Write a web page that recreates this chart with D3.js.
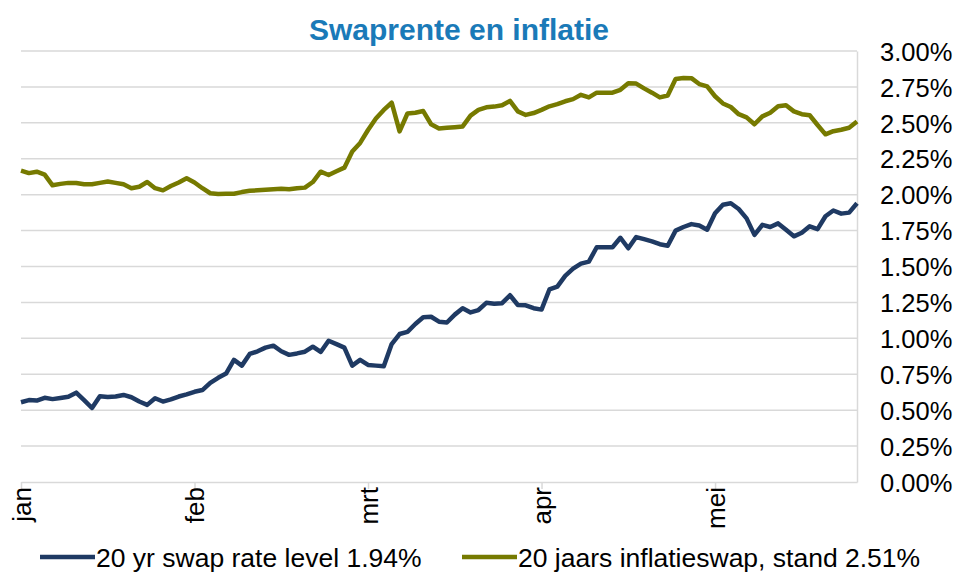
<!DOCTYPE html>
<html>
<head>
<meta charset="utf-8">
<script src="https://cdn.jsdelivr.net/npm/d3@7"></script>
<style>
	body { margin: 0; background: #fff; }
	svg { display: block; font-family: "Liberation Sans", Arial, sans-serif; }
</style>
</head>
<body>
<svg id="chart"></svg>
<script>
'use strict'

// handelsdagen jan t/m mei, labels op elke 22e dag
var maanden = ["jan", "feb", "mrt", "apr", "mei"];
var maandDag = [0, 22, 44, 66, 88];

// 20 yr swap rate (%)
var swapRente = [
	0.555, 0.57, 0.567, 0.586, 0.577, 0.585, 0.594, 0.622, 0.57, 0.515,
	0.597, 0.592, 0.595, 0.606, 0.59, 0.56, 0.537, 0.583, 0.56, 0.575,
	0.595, 0.61, 0.628, 0.64, 0.69, 0.725, 0.755, 0.85, 0.81, 0.891,
	0.91, 0.935, 0.949, 0.91, 0.885, 0.895, 0.907, 0.942, 0.905, 0.983,
	0.96, 0.935, 0.81, 0.85, 0.815, 0.81, 0.805, 0.96, 1.03, 1.045,
	1.10, 1.147, 1.15, 1.116, 1.11, 1.165, 1.209, 1.18, 1.197, 1.247,
	1.24, 1.245, 1.30, 1.232, 1.23, 1.21, 1.20, 1.34, 1.36, 1.435,
	1.485, 1.52, 1.534, 1.634, 1.634, 1.634, 1.70, 1.627, 1.705, 1.69,
	1.675, 1.655, 1.645, 1.75, 1.775, 1.795, 1.785, 1.756, 1.87, 1.93,
	1.94, 1.90, 1.835, 1.72, 1.79, 1.775, 1.80, 1.755, 1.71, 1.735,
	1.78, 1.76, 1.85, 1.89, 1.868, 1.875, 1.94
];

// 20 jaars inflatieswap (%)
var inflatieSwap = [
	2.167, 2.15, 2.16, 2.14, 2.065, 2.075, 2.082, 2.081, 2.072, 2.072,
	2.082, 2.092, 2.082, 2.072, 2.045, 2.055, 2.088, 2.045, 2.03, 2.06,
	2.085, 2.114, 2.085, 2.045, 2.01, 2.005, 2.007, 2.006, 2.018, 2.027,
	2.03, 2.034, 2.037, 2.041, 2.037, 2.045, 2.049, 2.088, 2.16, 2.137,
	2.163, 2.188, 2.30, 2.36, 2.45, 2.53, 2.59, 2.64, 2.44, 2.565,
	2.57, 2.582, 2.49, 2.46, 2.465, 2.47, 2.475, 2.55, 2.59, 2.608,
	2.613, 2.622, 2.653, 2.58, 2.555, 2.568, 2.59, 2.615, 2.63, 2.65,
	2.665, 2.695, 2.677, 2.71, 2.71, 2.71, 2.73, 2.775, 2.773, 2.74,
	2.71, 2.677, 2.69, 2.805, 2.812, 2.811, 2.77, 2.754, 2.685, 2.635,
	2.61, 2.56, 2.538, 2.49, 2.545, 2.57, 2.615, 2.622, 2.58, 2.56,
	2.553, 2.485, 2.42, 2.442, 2.452, 2.466, 2.51
];

var yTicks = [0, 0.25, 0.5, 0.75, 1, 1.25, 1.5, 1.75, 2, 2.25, 2.5, 2.75, 3];

var series = [
	{ naam: "20 yr swap rate level 1.94%", waarden: swapRente, kleur: "#1f3a63" },
	{ naam: "20 jaars inflatieswap, stand 2.51%", waarden: inflatieSwap, kleur: "#767a00" }
];

var WIDTH = 961,
	HEIGHT = 575;

var plotLeft = 21, plotRight = 857, plotTop = 51, plotBottom = 482;

var svg = d3.select("#chart")
	.attr("width", WIDTH)
	.attr("height", HEIGHT)

var x = d3.scaleLinear()
	.domain([0, swapRente.length - 1])
	.range([plotLeft, plotRight])

var y = d3.scaleLinear()
	.domain([0, 3])
	.range([plotBottom, plotTop])

// gridlijnen
svg.append("g")
	.selectAll("line")
	.data(yTicks.slice(1))
	.enter().append("line")
	.attr("x1", plotLeft)
	.attr("x2", plotRight)
	.attr("y1", function (d) { return y(d) })
	.attr("y2", function (d) { return y(d) })
	.style("stroke", "#d9d9d9")
	.style("stroke-width", 1.5)

// rechter as
var yAxis = svg.append("g")
	.attr("transform", "translate(" + plotRight + ",0)")
	.call(d3.axisRight(y).tickValues(yTicks).tickSize(0).tickPadding(23)
		.tickFormat(function (d) { return d3.format(".2f")(d) + "%" }))

yAxis.select(".domain").style("stroke", "#d9d9d9").style("stroke-width", 1.5)
yAxis.selectAll("text")
	.style("font-size", "25.5px")
	.style("fill", "#000")
	.attr("dy", "0.36em")

// x-as
var xAxis = svg.append("g")
	.attr("transform", "translate(0," + plotBottom + ")")
	.call(d3.axisBottom(x).tickValues(maandDag).tickSize(7).tickSizeOuter(0)
		.tickFormat(function (d, i) { return maanden[i] }))

xAxis.select(".domain").style("stroke", "#d9d9d9").style("stroke-width", 1.5)
xAxis.selectAll(".tick line").style("stroke", "#d9d9d9").style("stroke-width", 1.5)
xAxis.selectAll("text")
	.style("font-size", "26px")
	.style("fill", "#000")
	.style("text-anchor", "end")
	.attr("transform", "rotate(-90)")
	.attr("x", -5)
	.attr("y", 0)
	.attr("dy", "0.36em")

// lijnen
var line = d3.line()
	.x(function (d, i) { return x(i) })
	.y(function (d) { return y(d) })

svg.append("g")
	.selectAll("path")
	.data(series)
	.enter().append("path")
	.attr("d", function (s) { return line(s.waarden) })
	.style("fill", "none")
	.style("stroke", function (s) { return s.kleur })
	.style("stroke-width", 4.5)
	.style("stroke-linejoin", "round")

// titel
svg.append("text")
	.attr("x", 459)
	.attr("y", 40)
	.style("text-anchor", "middle")
	.style("font-size", "30px")
	.style("font-weight", "bold")
	.style("fill", "#1a7ab8")
	.text("Swaprente en inflatie")

// legenda
var legendX = [40, 462];
var legend = svg.append("g")
	.selectAll("g")
	.data(series)
	.enter().append("g")
	.attr("transform", function (s, i) { return "translate(" + legendX[i] + ",557)" })

legend.append("line")
	.attr("x1", 0)
	.attr("x2", 55)
	.style("stroke", function (s) { return s.kleur })
	.style("stroke-width", 4.5)

legend.append("text")
	.attr("x", 56)
	.attr("dy", "0.36em")
	.style("font-size", "26.5px")
	.style("fill", "#000")
	.text(function (s) { return s.naam })
</script>
</body>
</html>
